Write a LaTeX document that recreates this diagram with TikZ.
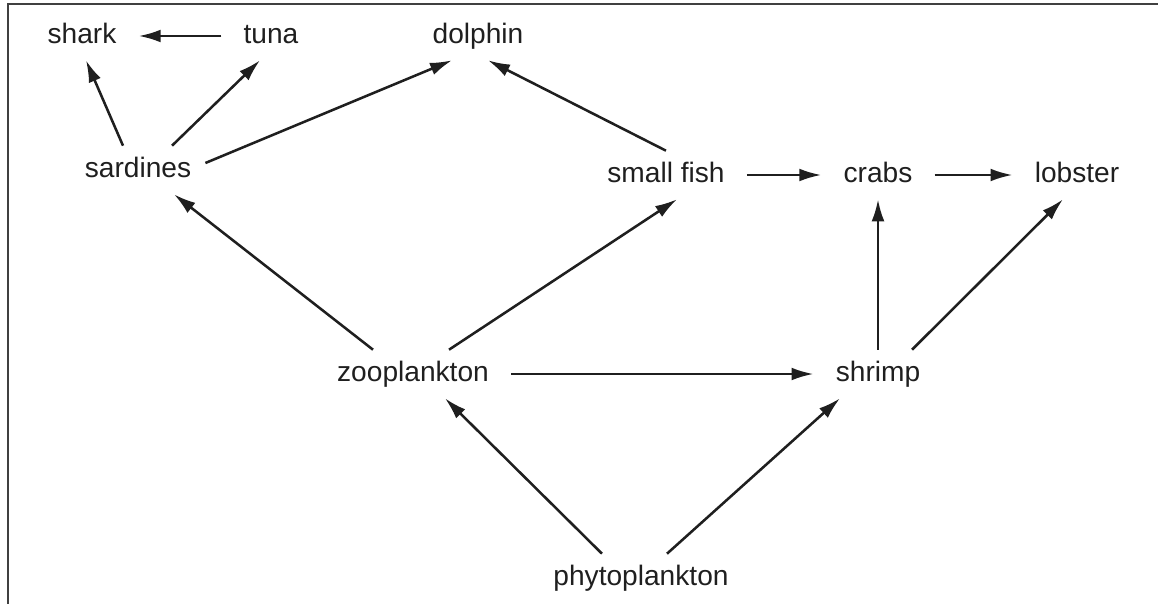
\documentclass[tikz,border=0pt]{standalone}
\usepackage{fontspec}
\setmainfont{Liberation Sans}
\usepackage{tikz}
\usetikzlibrary{arrows.meta,positioning,calc}

\begin{document}
\begin{tikzpicture}[on grid,
    every node/.style={font=\fontsize{20}{24}\selectfont, text=black!88, inner xsep=0.55cm, inner ysep=0.27cm, text height=14.4pt, text depth=4.4pt},
    feeds/.style={line width=1.8pt, draw=black!88, -{Latex[length=0.55cm,width=0.32cm]}}]
      \useasboundingbox (0,0) rectangle (28.95,-15.1);
      \draw[line width=0.8pt, black!75] (28.95,-0.1) -- (0.2,-0.1) -- (0.2,-15.1);
      \node at (10.325,-9.35) (zoo) {zooplankton};
      \node[right= 11.625cm of zoo] (shrimp) {shrimp};
      \node[above= 4.975cm of shrimp] (crabs) {crabs};
      \node[right= 4.975cm of crabs] (lobster) {lobster};
      \node[left= 5.3cm of crabs] (fish) {small fish};
      \node[below right= 5.1cm and 5.7cm of zoo] (phyto) {phytoplankton};
      \node[above left= 5.1cm and 6.875cm of zoo] (sardines) {sardines};
      \node[above left= 3.35cm and 1.4cm of sardines] (shark) {shark};
      \node[right= 4.725cm of shark] (tuna) {tuna};
      \node[right= 5.175cm of tuna] (dolphin) {dolphin};
      % top of the web
      \draw[feeds] (tuna)--(shark);
      \draw[feeds] ([xshift=-0.375cm]sardines.north)--([xshift=0.1cm]shark.south);
      \draw[feeds] ([xshift=0.85cm]sardines.north)--([xshift=-0.275cm]tuna.south);
      \draw[feeds] ([xshift=-0.2cm,yshift=0.175cm]sardines.east)--([xshift=-0.65cm]dolphin.south);
      \draw[feeds] (fish.north)--([xshift=0.25cm]dolphin.south);
      \draw[feeds] (fish)--(crabs);
      \draw[feeds] (crabs)--(lobster);
      % middle
      \draw[feeds] ([xshift=-1cm]zoo.north)--([xshift=0.9cm]sardines.south);
      \draw[feeds] ([xshift=0.9cm]zoo.north)--([xshift=0.275cm]fish.south);
      \draw[feeds] (zoo)--(shrimp);
      \draw[feeds] (shrimp)--(crabs);
      \draw[feeds] ([xshift=0.85cm]shrimp.north)--([xshift=-0.35cm]lobster.south);
      % bottom
      \draw[feeds] ([xshift=-0.975cm]phyto.north)--([xshift=0.8cm]zoo.south);
      \draw[feeds] ([xshift=0.65cm]phyto.north)--([xshift=-0.95cm]shrimp.south);
\end{tikzpicture}
\end{document}
